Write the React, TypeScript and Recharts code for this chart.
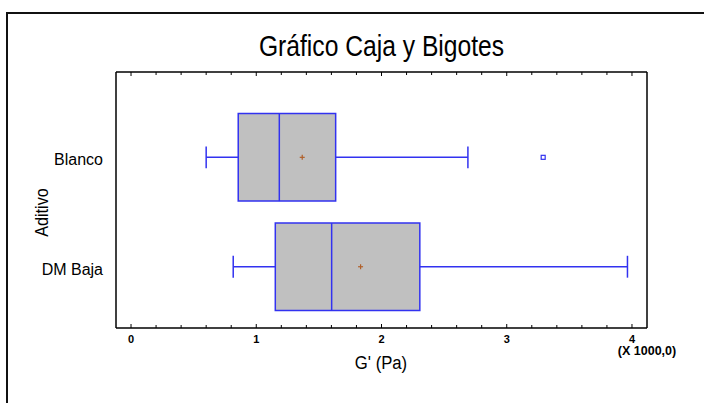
import React from 'react';
import { ComposedChart, XAxis, YAxis, ReferenceArea, ReferenceLine, Scatter } from 'recharts';

const categories = ['Blanco', 'DM Baja'];
const whiskerLow = [600, 816];
const q1 = [856, 1152];
const median = [1184, 1602];
const q3 = [1634, 2306];
const whiskerHigh = [2690, 3964];
const means = [1367, 1833];
const outlierCats = [0];
const outlierValues = [3291];
const xTicks = [0, 200, 400, 600, 800, 1000, 1200, 1400, 1600, 1800, 2000, 2200, 2400, 2600, 2800, 3000, 3200, 3400, 3600, 3800, 4000];
const yTicks = [1, 2];

const BLUE = '#3232f0';
const FONT = "'Liberation Sans', Arial, sans-serif";

const meanData = categories.map((c, i) => ({ x: means[i], y: i + 1, name: c }));
const outlierData = outlierValues.map((v, i) => ({ x: v, y: outlierCats[i] + 1 }));

const BottomTick = (props: any) => {
  const { x, y, payload } = props;
  const v = payload.value as number;
  const major = v % 1000 === 0;
  return (
    <g>
      <line x1={x} x2={x} y1={y} y2={y - (major ? 4 : 3)} stroke="#000" strokeWidth={1} />
      {major && (
        <text x={x} y={y + 15} textAnchor="middle" fontWeight="bold" fontSize={11} fontFamily={FONT} fill="#000">
          {v / 1000}
        </text>
      )}
    </g>
  );
};

const TopTick = (props: any) => {
  const { x, y, payload } = props;
  const v = payload.value as number;
  const major = v % 1000 === 0;
  return <line x1={x} x2={x} y1={y} y2={y + (major ? 4 : 3)} stroke="#000" strokeWidth={1} />;
};

const LeftTick = (props: any) => {
  const { x, y, payload } = props;
  return (
    <text x={x} y={y + 8} textAnchor="end" fontSize={16} fontFamily={FONT} fill="#000">
      {categories[payload.value - 1]}
    </text>
  );
};

const MeanShape = (props: any) => {
  const { cx, cy } = props;
  return (
    <g>
      <line x1={cx - 2.5} x2={cx + 2.5} y1={cy} y2={cy} stroke="#b0602a" strokeWidth={1.2} />
      <line x1={cx} x2={cx} y1={cy - 2.5} y2={cy + 2.5} stroke="#b0602a" strokeWidth={1.2} />
    </g>
  );
};

const OutlierShape = (props: any) => {
  const { cx, cy } = props;
  return <rect x={cx - 2} y={cy - 2} width={4} height={4} fill="#fff" stroke={BLUE} strokeWidth={1.2} />;
};

export default function App() {
  const H = 0.4;
  const CAP = 0.1;
  return (
    <div style={{ position: 'absolute', left: 0, top: 0, width: 704, height: 403, background: '#fff', overflow: 'hidden' }}>
      <ComposedChart width={704} height={403} margin={{ top: 62, right: 0, bottom: 0, left: 0 }}>
        <XAxis
          dataKey="x"
          type="number"
          domain={[-120, 4120]}
          ticks={xTicks}
          interval={0}
          allowDataOverflow
          tickLine={false}
          tickSize={0}
          tickMargin={0}
          height={75}
          axisLine={{ stroke: '#000', strokeWidth: 1.5 }}
          tick={<BottomTick />}
        />
        <XAxis
          xAxisId="top"
          orientation="top"
          dataKey="x"
          type="number"
          domain={[-120, 4120]}
          ticks={xTicks}
          interval={0}
          allowDataOverflow
          tickLine={false}
          tickSize={0}
          tickMargin={0}
          height={10}
          axisLine={{ stroke: '#000', strokeWidth: 1.5 }}
          tick={<TopTick />}
        />
        <YAxis
          dataKey="y"
          type="number"
          domain={[0.22, 2.56]}
          reversed
          ticks={yTicks}
          interval={0}
          allowDataOverflow
          tickLine={false}
          tickSize={0}
          tickMargin={13}
          width={116}
          axisLine={{ stroke: '#000', strokeWidth: 1.5 }}
          tick={<LeftTick />}
        />
        <YAxis
          yAxisId="r"
          orientation="right"
          type="number"
          domain={[0.22, 2.56]}
          reversed
          allowDataOverflow
          tick={false}
          tickLine={false}
          width={57}
          axisLine={{ stroke: '#000', strokeWidth: 1.5 }}
        />
        {categories.map((c, i) => {
          const yc = i + 1;
          return (
            <React.Fragment key={c}>
              <ReferenceLine segment={[{ x: whiskerLow[i], y: yc }, { x: q1[i], y: yc }]} stroke={BLUE} strokeWidth={1.5} ifOverflow="visible" />
              <ReferenceLine segment={[{ x: q3[i], y: yc }, { x: whiskerHigh[i], y: yc }]} stroke={BLUE} strokeWidth={1.5} ifOverflow="visible" />
              <ReferenceLine segment={[{ x: whiskerLow[i], y: yc - CAP }, { x: whiskerLow[i], y: yc + CAP }]} stroke={BLUE} strokeWidth={1.5} ifOverflow="visible" />
              <ReferenceLine segment={[{ x: whiskerHigh[i], y: yc - CAP }, { x: whiskerHigh[i], y: yc + CAP }]} stroke={BLUE} strokeWidth={1.5} ifOverflow="visible" />
              <ReferenceArea x1={q1[i]} x2={q3[i]} y1={yc - H} y2={yc + H} fill="#c0c0c0" fillOpacity={1} stroke={BLUE} strokeWidth={1.5} ifOverflow="visible" />
              <ReferenceLine segment={[{ x: median[i], y: yc - H }, { x: median[i], y: yc + H }]} stroke={BLUE} strokeWidth={1.5} ifOverflow="visible" />
            </React.Fragment>
          );
        })}
        <Scatter data={meanData} dataKey="x" shape={<MeanShape />} isAnimationActive={false} />
        <Scatter data={outlierData} dataKey="x" shape={<OutlierShape />} isAnimationActive={false} />
      </ComposedChart>
      <svg width={704} height={403} style={{ position: 'absolute', left: 0, top: 0, pointerEvents: 'none' }}>
        <path d="M7,403 L7,13 L704,13" fill="none" stroke="#111" strokeWidth={2} />
        <text transform="translate(381.5 56) scale(0.85 1)" x={0} y={0} textAnchor="middle" fontSize={29} fontFamily={FONT} fill="#000">Gráfico Caja y Bigotes</text>
        <text transform="translate(381 369) scale(0.88 1)" x={0} y={0} textAnchor="middle" fontSize={19} fontFamily={FONT} fill="#000">G' (Pa)</text>
        <text transform="translate(47.5 212.5) rotate(-90) scale(0.9 1)" x={0} y={0} textAnchor="middle" fontSize={18} fontFamily={FONT} fill="#000">Aditivo</text>
        <text x={647} y={355} textAnchor="middle" fontWeight="bold" fontSize={12.5} fontFamily={FONT} fill="#000">(X 1000,0)</text>
      </svg>
    </div>
  );
}
